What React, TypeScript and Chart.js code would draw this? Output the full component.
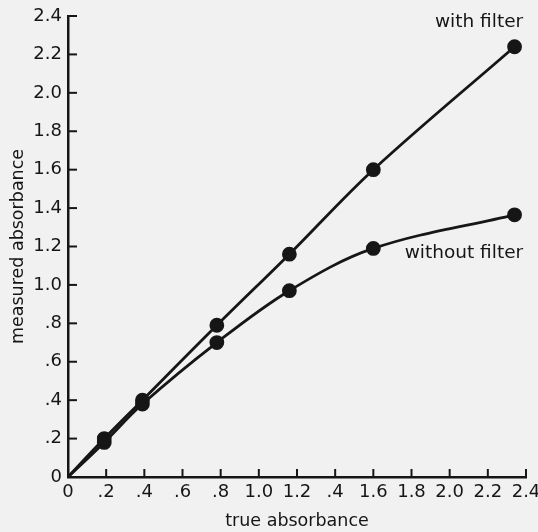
import React, { useEffect, useRef } from "react";
import { Chart, registerables } from "chart.js";

Chart.register(...registerables);

const trueAbsorbance = [0, 0.19, 0.39, 0.78, 1.16, 1.6, 2.34];
const measuredWithFilter = [0, 0.2, 0.4, 0.79, 1.16, 1.6, 2.24];
const measuredWithoutFilter = [0, 0.18, 0.38, 0.7, 0.97, 1.19, 1.365];

const xTickValues = [0, 0.2, 0.4, 0.6, 0.8, 1.0, 1.2, 1.4, 1.6, 1.8, 2.0, 2.2, 2.4];
const xTickLabels = ["0", ".2", ".4", ".6", ".8", "1.0", "1.2", ".4", "1.6", "1.8", "2.0", "2.2", "2.4"];
const yTickValues = [0, 0.2, 0.4, 0.6, 0.8, 1.0, 1.2, 1.4, 1.6, 1.8, 2.0, 2.2, 2.4];
const yTickLabels = ["0", ".2", ".4", ".6", ".8", "1.0", "1.2", "1.4", "1.6", "1.8", "2.0", "2.2", "2.4"];

const seriesNames = ["with filter", "without filter"];
const seriesLabelAnchors = [
  { x: 2.385, y: 2.37 },
  { x: 2.385, y: 1.165 },
];

const INK = "#161616";
const BG = "#f1f1f1";
const FONT = "'DejaVu Sans', sans-serif";

export default function App() {
  const canvasRef = useRef<HTMLCanvasElement | null>(null);

  useEffect(() => {
    const canvas = canvasRef.current;
    if (!canvas) return;

    const innerTicks = {
      id: "innerTicks",
      afterDraw(chart: any) {
        const ctx = chart.ctx;
        const xs = chart.scales.x;
        const ys = chart.scales.y;
        const { left, bottom } = chart.chartArea;
        ctx.save();
        ctx.strokeStyle = INK;
        ctx.lineWidth = 2;
        xTickValues.forEach((v) => {
          const px = xs.getPixelForValue(v);
          ctx.beginPath();
          ctx.moveTo(px, bottom);
          ctx.lineTo(px, bottom - 8);
          ctx.stroke();
        });
        yTickValues.forEach((v) => {
          const py = ys.getPixelForValue(v);
          ctx.beginPath();
          ctx.moveTo(left, py);
          ctx.lineTo(left + 9, py);
          ctx.stroke();
        });
        ctx.fillStyle = INK;
        ctx.font = `18.5px ${FONT}`;
        ctx.textAlign = "right";
        ctx.textBaseline = "middle";
        seriesNames.forEach((name, i) => {
          const a = seriesLabelAnchors[i];
          ctx.fillText(name, xs.getPixelForValue(a.x), ys.getPixelForValue(a.y));
        });
        ctx.restore();
      },
    };

    const chart = new Chart(canvas, {
      type: "line",
      data: {
        datasets: [
          {
            label: seriesNames[0],
            data: trueAbsorbance.map((x, i) => ({ x, y: measuredWithFilter[i] })),
          },
          {
            label: seriesNames[1],
            data: trueAbsorbance.map((x, i) => ({ x, y: measuredWithoutFilter[i] })),
          },
        ].map((d) => ({
          ...d,
          borderColor: INK,
          backgroundColor: INK,
          borderWidth: 2.8,
          pointRadius: (c: any) => (c.dataIndex === 0 ? 0 : 6),
          pointBackgroundColor: INK,
          pointBorderColor: INK,
          tension: 0.35,
          fill: false,
        })),
      },
      options: {
        animation: false,
        responsive: false,
        maintainAspectRatio: false,
        layout: { padding: { top: 16, right: 12, left: 0, bottom: 0 } },
        plugins: {
          legend: { display: false },
          tooltip: { enabled: false },
        },
        scales: {
          x: {
            type: "linear",
            min: 0,
            max: 2.4,
            afterFit: (s: any) => {
              s.height = 55;
              s.paddingLeft = 0;
              s.paddingRight = 0;
            },
            afterBuildTicks: (s: any) => {
              s.ticks = xTickValues.map((v) => ({ value: v }));
            },
            grid: { display: false, drawTicks: false },
            border: { display: true, color: INK, width: 2.5 },
            ticks: {
              autoSkip: false,
              maxRotation: 0,
              padding: 5,
              color: INK,
              font: { family: FONT, size: 18 },
              callback: (_v: any, i: number) => xTickLabels[i],
            },
            title: {
              display: true,
              text: "true absorbance",
              color: INK,
              font: { family: FONT, size: 17.5 },
              padding: { top: 0, bottom: 0 },
            },
          },
          y: {
            type: "linear",
            min: 0,
            max: 2.4,
            afterFit: (s: any) => {
              s.width = 68;
              s.paddingTop = 0;
              s.paddingBottom = 0;
            },
            afterBuildTicks: (s: any) => {
              s.ticks = yTickValues.map((v) => ({ value: v }));
            },
            grid: { display: false, drawTicks: false },
            border: { display: true, color: INK, width: 2.5 },
            ticks: {
              autoSkip: false,
              padding: 6,
              color: INK,
              font: { family: FONT, size: 18 },
              callback: (_v: any, i: number) => yTickLabels[i],
            },
            title: {
              display: true,
              text: "measured absorbance",
              color: INK,
              font: { family: FONT, size: 17.5 },
              padding: { top: 8, bottom: 0 },
            },
          },
        },
      },
      plugins: [innerTicks],
    });

    return () => chart.destroy();
  }, []);

  return (
    <div
      style={{
        position: "fixed",
        left: 0,
        top: 0,
        width: 538,
        height: 532,
        background: BG,
      }}
    >
      <canvas ref={canvasRef} width={538} height={532} style={{ display: "block" }} />
    </div>
  );
}
